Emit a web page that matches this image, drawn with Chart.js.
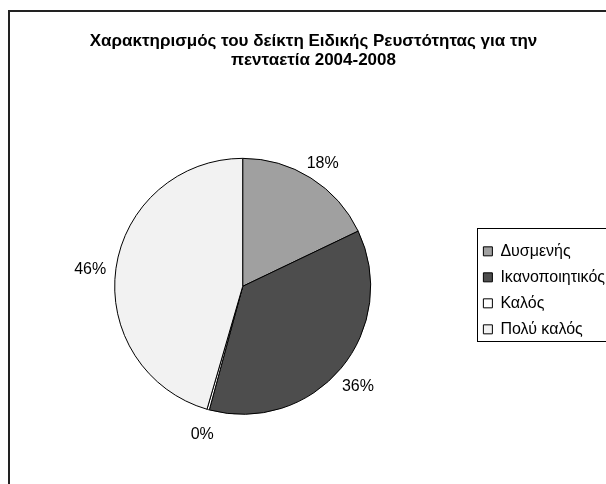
<!DOCTYPE html>
<html>
<head>
<meta charset="utf-8">
<script src="https://cdn.jsdelivr.net/npm/chart.js@4.4.1/dist/chart.umd.min.js"></script>
<style>
  html, body { margin: 0; padding: 0; background: #fff; overflow: hidden; }
  #frame { position: absolute; left: 8px; top: 10px; width: 610px; height: 490px; border: 2px solid #222; }
  #frame canvas { display: block; }
</style>
</head>
<body>
<div id="frame"><canvas id="pie" width="610" height="490"></canvas></div>
<script>
const titleLines = ["Χαρακτηρισμός του δείκτη Ειδικής Ρευστότητας για την", "πενταετία 2004-2008"];
const categories = ["Δυσμενής", "Ικανοποιητικός", "Καλός", "Πολύ καλός"];
const shares = [17.9, 36.3, 0.3, 45.5];

const sliceColors = ["#a0a0a0", "#4d4d4d", "#ffffff", "#f2f2f2"];
const fontFamily = '"Liberation Sans", Arial, sans-serif';

// percentage labels just outside each slice
const percentLabels = {
  id: "percentLabels",
  afterDatasetsDraw(chart) {
    const { ctx } = chart;
    const total = shares.reduce((a, b) => a + b, 0);
    ctx.save();
    ctx.font = "16px " + fontFamily;
    ctx.fillStyle = "#000";
    ctx.textAlign = "center";
    ctx.textBaseline = "middle";
    chart.getDatasetMeta(0).data.forEach((arc, i) => {
      const { x, y, startAngle, endAngle, outerRadius } =
        arc.getProps(["x", "y", "startAngle", "endAngle", "outerRadius"], true);
      const mid = (startAngle + endAngle) / 2;
      const r = outerRadius + 22;
      const dx = Math.cos(mid) < -0.8 ? -4 : 0;
      ctx.fillText(Math.round(shares[i] / total * 100) + "%", x + Math.cos(mid) * r + dx, y + Math.sin(mid) * r + 4);
    });
    ctx.restore();
  }
};

// frame around the legend, like the Excel legend box
const legendFrame = {
  id: "legendFrame",
  afterDraw(chart) {
    const boxes = chart.legend.legendHitBoxes;
    if (!boxes || !boxes.length) return;
    const first = boxes[0];
    const last = boxes[boxes.length - 1];
    const { ctx } = chart;
    ctx.save();
    ctx.strokeStyle = "#000";
    ctx.lineWidth = 1;
    const left = Math.round(first.left - 6) + 0.5;
    const top = Math.round(first.top - 15) + 0.5;
    const bottom = Math.round(last.top + last.height + 4) + 0.5;
    ctx.strokeRect(left, top, 300, bottom - top);
    ctx.restore();
  }
};

new Chart(document.getElementById("pie"), {
  type: "pie",
  data: {
    labels: categories,
    datasets: [{
      data: shares,
      backgroundColor: sliceColors,
      borderColor: "#000",
      borderWidth: 1,
      radius: 128,
    }],
  },
  options: {
    responsive: false,
    animation: false,
    layout: { padding: { left: 2, right: 5, top: 0, bottom: 9.4 } },
    plugins: {
      title: {
        display: true,
        text: titleLines,
        color: "#000",
        font: { family: fontFamily, size: 17, weight: "bold", lineHeight: 1.12 },
        padding: { top: 20, bottom: 10 },
      },
      legend: {
        position: "right",
        fullSize: false,
        // empty legend title only nudges the entries down a little
        title: { display: true, text: "", font: { size: 1, lineHeight: 1 }, padding: { top: 7, bottom: 0 } },
        labels: {
          color: "#000",
          font: { family: fontFamily, size: 16 },
          boxWidth: 9,
          boxHeight: 9,
          padding: 10,
        },
      },
      tooltip: { enabled: false },
    },
  },
  plugins: [percentLabels, legendFrame],
});
</script>
</body>
</html>
